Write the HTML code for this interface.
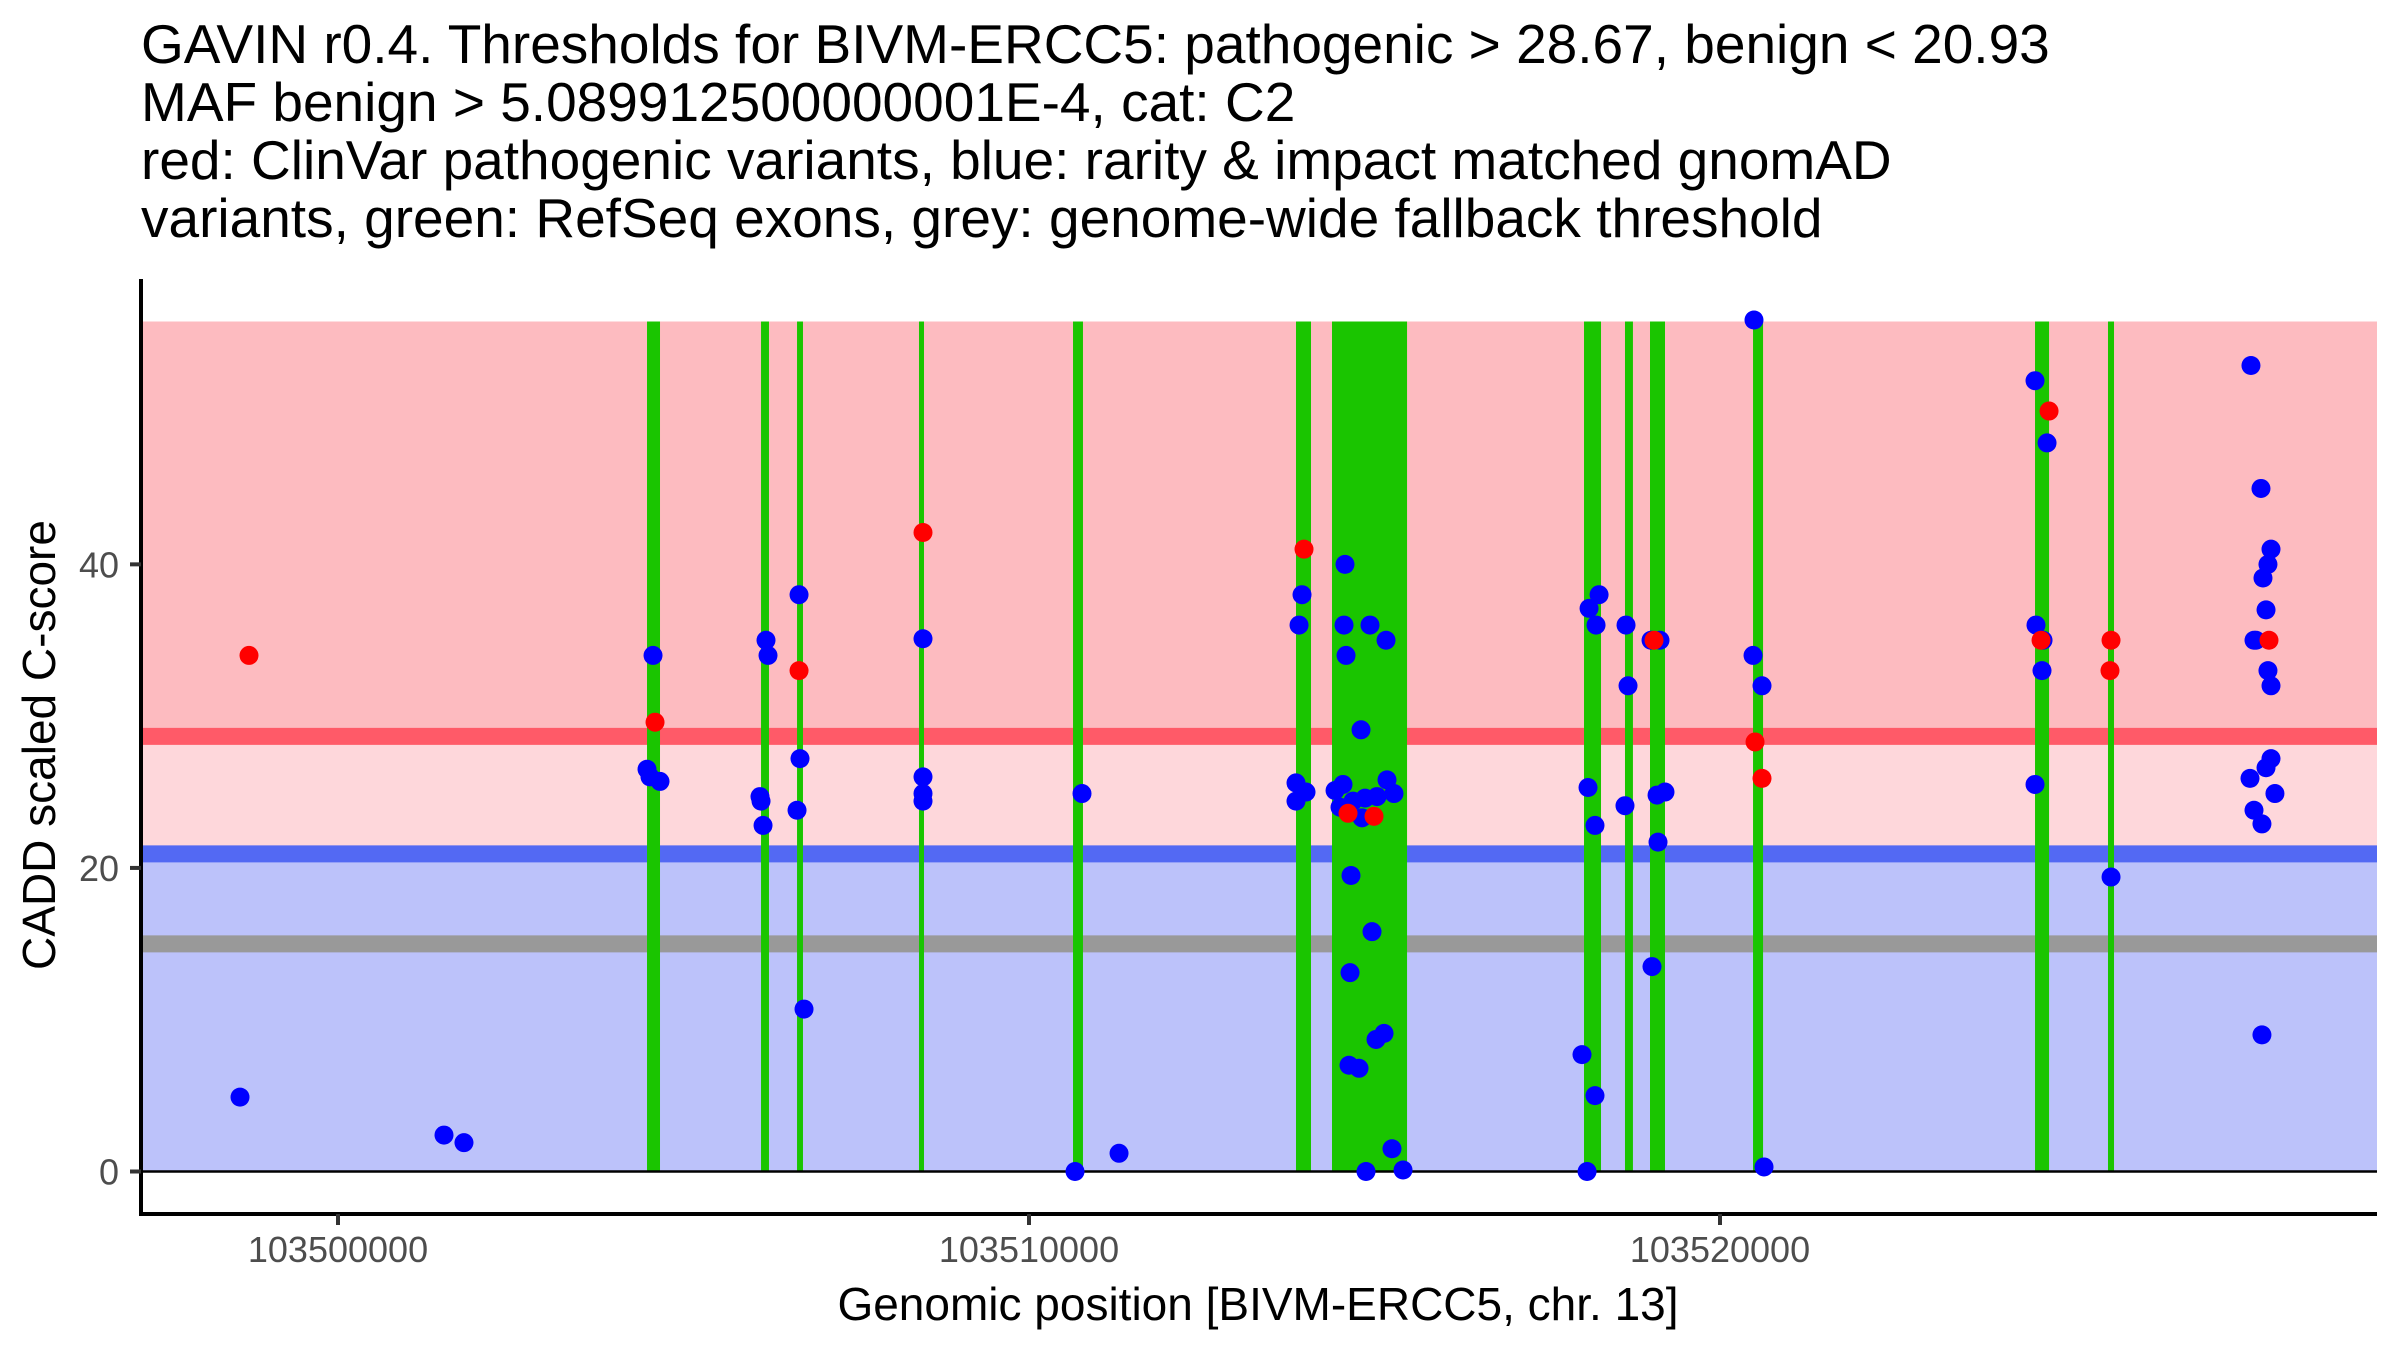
<!DOCTYPE html>
<html><head><meta charset="utf-8">
<style>
html,body{margin:0;padding:0;background:#fff;}
svg{display:block;font-family:"Liberation Sans",Arial,sans-serif;}
</style></head>
<body>
<svg id="chart" width="2400" height="1350" viewBox="0 0 2400 1350" xmlns="http://www.w3.org/2000/svg">
  <g font-size="55" fill="#000">
    <text x="141" y="63">GAVIN r0.4. Thresholds for BIVM-ERCC5: pathogenic &gt; 28.67, benign &lt; 20.93</text>
    <text x="141" y="121">MAF benign &gt; 5.089912500000001E-4, cat: C2</text>
    <text x="141" y="179">red: ClinVar pathogenic variants, blue: rarity &amp; impact matched gnomAD</text>
    <text x="141" y="237">variants, green: RefSeq exons, grey: genome-wide fallback threshold</text>
  </g>
  <g id="plot"></g>
  <text x="1258" y="1320" font-size="46" text-anchor="middle">Genomic position [BIVM-ERCC5, chr. 13]</text>
  <text transform="translate(55,745) rotate(-90)" font-size="46" text-anchor="middle">CADD scaled C-score</text>
</svg>
<script>
const yTicks = [0, 20, 40];
const xTicks = [103500000, 103510000, 103520000];
const thresholds = [28.67, 20.93, 15];
const exonStart = [103504472,103506122,103506643,103508408,103510637,103513864,103514385,103518032,103518625,103518987,103520478,103524559,103525615];
const exonEnd   = [103504660,103506237,103506729,103508466,103510781,103514081,103515471,103518278,103518740,103519204,103520623,103524762,103525702];
const bluePos = [103498582,103501534,103501823,103504559,103504472,103504515,103504660,103506194,103506223,103506107,103506122,103506151,103506672,103506686,103506643,103506744,103508466,103508466,103508466,103508466,103510767,103510666,103511303,103513951,103513908,103513864,103514009,103513864,103514573,103514559,103514935,103515167,103514588,103514805,103514544,103514429,103515181,103515282,103515036,103514501,103514819,103514689,103514863,103514660,103514964,103514646,103515138,103515022,103514631,103514776,103515253,103514877,103515413,103518250,103518105,103518206,103518090,103518191,103518003,103518191,103518076,103518640,103518669,103518625,103519002,103519132,103519089,103519204,103519103,103519016,103520492,103520478,103520608,103520637,103524559,103524733,103524573,103524675,103524660,103524559,103525659,103527684,103527829,103527974,103527930,103527858,103527902,103527728,103527757,103527930,103527974,103527974,103527902,103527670,103528031,103527728,103527843,103527843];
const blueVal = [4.9,2.4,1.9,34.0,26.5,26.0,25.7,35.0,34.0,24.7,24.4,22.8,38.0,27.2,23.8,10.7,35.1,26.0,24.9,24.4,24.9,0,1.2,38.0,36.0,25.6,25.0,24.4,40.0,36.0,36.0,35.0,34.0,29.1,25.5,25.1,25.8,24.9,24.7,24.0,23.3,24.4,24.6,19.5,15.8,13.1,9.1,8.7,7.0,6.8,1.5,0,0.1,38.0,37.1,36.0,25.3,22.8,7.7,5.0,0,36.0,32.0,24.1,35.0,35.0,24.8,25.0,21.7,13.5,56.1,34.0,32.0,0.3,52.1,48.0,36.0,35.0,33.0,25.5,19.4,53.1,45.0,41.0,40.0,39.1,37.0,35.0,35.0,33.0,32.0,27.2,26.6,25.9,24.9,23.8,22.9,9.0];
const redPos = [103498712,103504588,103506672,103508466,103513980,103514617,103514993,103519045,103520507,103520608,103524762,103524646,103525659,103525644,103527945];
const redVal = [34.0,29.6,33.0,42.1,41.0,23.6,23.4,35.0,28.3,25.9,50.1,35.0,35.0,33.0,35.0];
const yMaxBand = 56;

const PL = 141, PR = 2377, PT = 279, PB = 1214;
const XMIN = 103497149, XMAX = 103529508, YMIN = -2.8, YMAX = 58.8;
function sx(v){ return PL + (v - XMIN) / (XMAX - XMIN) * (PR - PL); }
function sy(v){ return PB - (v - YMIN) / (YMAX - YMIN) * (PB - PT); }
const NS = "http://www.w3.org/2000/svg";
const plot = document.getElementById('plot');
function mk(tag, attrs, parent){
  const e = document.createElementNS(NS, tag);
  for (const k in attrs) e.setAttribute(k, attrs[k]);
  (parent || plot).appendChild(e);
  return e;
}
let el;
el = mk('rect',{x:PL,y:sy(yMaxBand),width:PR-PL,height:sy(thresholds[0])-sy(yMaxBand),fill:'#FDBBC0'});


el = mk('rect',{x:PL,y:sy(thresholds[0]),width:PR-PL,height:sy(thresholds[1])-sy(thresholds[0]),fill:'#FED7DB'});


el = mk('rect',{x:PL,y:sy(thresholds[1]),width:PR-PL,height:sy(0)-sy(thresholds[1]),fill:'#BCC2FA'});


const thrColors = ['#FF5A68','#5369F3','#999999'];
const thrNames = ['pathogenic-threshold','benign-threshold','fallback-threshold'];
thresholds.forEach((t,i)=>{
  const l = mk('line',{x1:PL,x2:PR,y1:sy(t),y2:sy(t),stroke:thrColors[i],'stroke-width':17});
  
  
});
exonStart.forEach((s,i)=>{
  const x1 = sx(s), x2 = sx(exonEnd[i]);
  const r = mk('rect',{x:x1,y:sy(yMaxBand),width:Math.max(x2-x1,5),height:sy(0)-sy(yMaxBand),fill:'#1AC500'});
  
  
});
el = mk('line',{x1:PL,x2:PR,y1:sy(0),y2:sy(0),stroke:'#000','stroke-width':2.5});


bluePos.forEach((p,i)=>{
  const c = mk('circle',{cx:sx(p),cy:sy(blueVal[i]),r:9.5,fill:'#0000FF'});
  
  
});
redPos.forEach((p,i)=>{
  const c = mk('circle',{cx:sx(p),cy:sy(redVal[i]),r:9.5,fill:'#FF0000'});
  
  
});
el = mk('line',{x1:PL,x2:PL,y1:PT,y2:PB+2,stroke:'#000','stroke-width':4});


el = mk('line',{x1:PL-2,x2:PR,y1:PB,y2:PB,stroke:'#000','stroke-width':4});


yTicks.forEach(t=>{
  const tk = mk('line',{x1:PL-11,x2:PL,y1:sy(t),y2:sy(t),stroke:'#333','stroke-width':4});
  
  
  const lb = mk('text',{x:PL-22,y:sy(t)+13,'text-anchor':'end','font-size':36,fill:'#4D4D4D'});
  lb.textContent = String(t);
  
  
});
xTicks.forEach(t=>{
  const tk = mk('line',{x1:sx(t),x2:sx(t),y1:PB,y2:PB+11,stroke:'#333','stroke-width':4});
  
  
  const lb = mk('text',{x:sx(t),y:1262,'text-anchor':'middle','font-size':36,fill:'#4D4D4D'});
  lb.textContent = String(t);
  
  
});
</script>
</body></html>
